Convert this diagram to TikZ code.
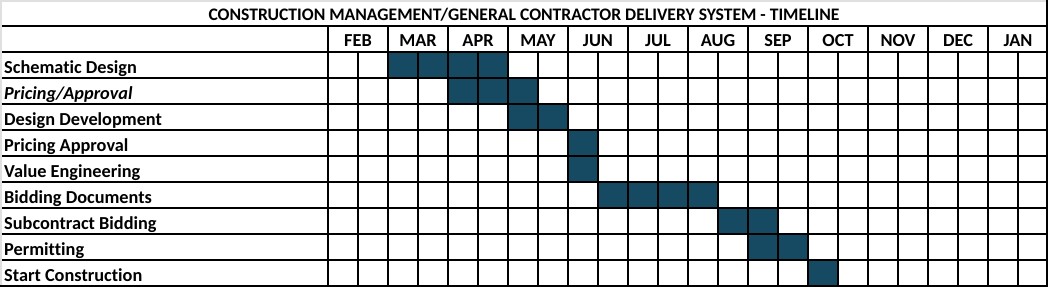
\documentclass[tikz,border=0pt]{standalone}
\usepackage{fontspec}
\setmainfont{Carlito}[Ligatures=NoCommon]
\usetikzlibrary{positioning}
\definecolor{barteal}{RGB}{22,73,98}
\definecolor{edgegray}{RGB}{224,224,224}

\begin{document}
\begin{tikzpicture}[
  x=1pt, y=-1pt,
  font=\bfseries\fontsize{18.3}{20}\selectfont,
  gridline/.style={draw=black, line width=1.3pt},
  frameline/.style={draw=black, line width=2.4pt},
  bar/.style={fill=barteal},
  task/.style={anchor=base west, inner sep=0pt},
  month/.style={anchor=base, inner sep=0pt},
  heading/.style={anchor=base, inner sep=0pt,
                  font=\bfseries\fontsize{17.6}{20}\selectfont}
]
\useasboundingbox (0,0) rectangle (1048,287);

% ---- bars (row / first half-month / last half-month) ----
\foreach \r/\a/\b in {0/2/5,1/4/6,2/6/7,3/8/8,4/8/8,5/9/12,6/13/14,7/14/15,8/16/16} {
  \pgfmathsetmacro\yt{52+\r*26}
  \pgfmathsetmacro\xa{328+\a*30}
  \pgfmathsetmacro\xb{358+\b*30}
  \fill[bar] (\xa,\yt) rectangle (\xb,\yt+26);
}

% ---- title ----
\node[heading] (title) at (524,20.7)
  {CONSTRUCTION MANAGEMENT/GENERAL CONTRACTOR DELIVERY SYSTEM - TIMELINE};

% ---- month headers ----
\def\months{{"FEB","MAR","APR","MAY","JUN","JUL","AUG","SEP","OCT","NOV","DEC","JAN"}}
\foreach \i in {0,...,11} {
  \pgfmathsetmacro\xc{358+\i*60}
  \pgfmathparse{\months[\i]}\let\lbl\pgfmathresult
  \node[month] (m\i) at (\xc,46.7) {\lbl};
}

% ---- task labels ----
\def\tasks{{"Schematic Design","Pricing/Approval","Design Development","Pricing Approval","Value Engineering","Bidding Documents","Subcontract Bidding","Permitting","Start Construction"}}
\foreach \r in {0,...,8} {
  \pgfmathsetmacro\yb{52+\r*26+21.3}
  \pgfmathparse{\tasks[\r]}\let\tl\pgfmathresult
  \node[task] (t\r) at (4,\yb) {\ifnum\r=1 \itshape\fi\tl};
}

% ---- grid ----
\foreach \y in {26,52,...,260}
  \draw[gridline] (0,\y) -- (1048,\y);
\foreach \i in {0,...,11} {
  \pgfmathsetmacro\xm{328+\i*60}
  \pgfmathsetmacro\xh{358+\i*60}
  \draw[gridline] (\xm,26) -- (\xm,286);
  \draw[gridline] (\xh,52) -- (\xh,286);
}
\draw[edgegray, line width=1.5pt] (0.75,287) -- (0.75,0.75) -- (1046,0.75);
\draw[frameline] (1046.8,0) -- (1046.8,287);
\draw[frameline] (0,285.8) -- (1048,285.8);

\end{tikzpicture}
\end{document}
